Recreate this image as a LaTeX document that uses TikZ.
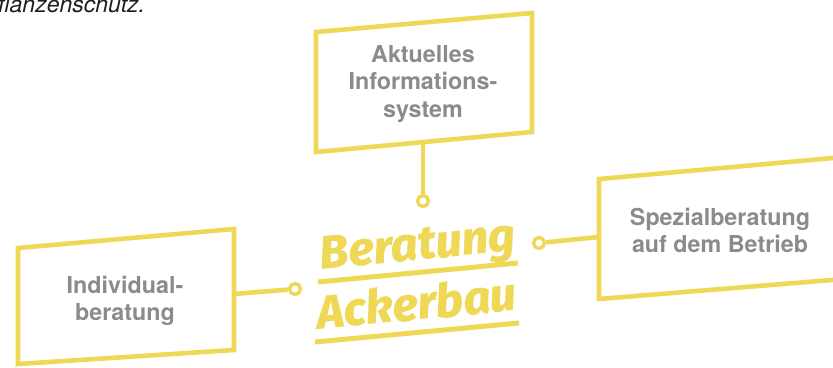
\documentclass[tikz,border=0pt]{standalone}
\usepackage{fontspec}
\setmainfont{TeX Gyre Heros}
\newfontfamily\titlefont{Fira Sans ExtraBold Italic}
\definecolor{ayellow}{RGB}{239,216,86}
\definecolor{agray}{RGB}{139,139,139}
\definecolor{aink}{RGB}{30,30,30}
\begin{document}
\begin{tikzpicture}[x=1pt,y=-1pt,
  boxframe/.style={draw=ayellow,line width=4.6pt,line join=miter},
  connector/.style={draw=ayellow,line width=4.6pt},
  joint/.style={circle,draw=ayellow,fill=white,line width=3.4pt,minimum size=11pt,inner sep=0pt},
  boxtext/.style={text=agray,font=\fontsize{23.3}{27.5}\selectfont\bfseries,align=center,inner sep=0pt},
  headline/.style={text=ayellow,font=\titlefont\fontsize{47}{52}\selectfont,rotate=5.5,inner sep=0pt,anchor=base},
  uline/.style={draw=ayellow,line width=5pt}]
\useasboundingbox (0,0) rectangle (833,367);
% top-left cut text
\node[anchor=base west,inner sep=0pt,text=aink,font=\fontsize{23}{26}\selectfont\itshape] (pz) at (-2,12.5) {flanzenschutz.};
% top box
\coordinate (tTL) at (316,32);
\coordinate (tTR) at (532,13);
\coordinate (tBR) at (532,132);
\coordinate (tBL) at (316,152);
\draw[boxframe] (tTL) -- (tTR) -- (tBR) -- (tBL) -- cycle;
\coordinate (tB) at (423,142.1);
\node[joint] (c1) at (423,201) {};
\draw[connector] (tB) -- (c1);
\node[boxtext] (ttext) at (423,84) {Aktuelles\\Informations-\\system};
% left box
\coordinate (lTL) at (18,248);
\coordinate (lTR) at (234,229);
\coordinate (lBR) at (234,350);
\coordinate (lBL) at (18,364);
\draw[boxframe] (lTL) -- (lTR) -- (lBR) -- (lBL) -- cycle;
\coordinate (lR) at (234,294);
\node[joint] (c2) at (295,289) {};
\draw[connector] (lR) -- (c2);
\node[boxtext] (ltext) at (125,301) {Individual-\\beratung};
% right box
\coordinate (rTL) at (599,179);
\coordinate (rTR) at (850,156.5);
\coordinate (rBR) at (850,278.5);
\coordinate (rBL) at (599,299);
\draw[boxframe] (rTL) -- (rTR) -- (rBR) -- (rBL) -- cycle;
\coordinate (rL) at (599,237);
\node[joint] (c3) at (539,243) {};
\draw[connector] (c3) -- (rL);
\node[boxtext] (rtext) at (720,230.5) {Spezialberatung\\auf dem Betrieb};
% centre title
\node[headline] (hb) at (419,260) {Beratung};
\node[headline] (ha) at (418,320) {Ackerbau};
\coordinate (u1a) at (318,282);
\coordinate (u1b) at (518,263);
\coordinate (u2a) at (315,342);
\coordinate (u2b) at (519,323);
\draw[uline] (u1a) -- (u1b);
\draw[uline] (u2a) -- (u2b);
\end{tikzpicture}
\end{document}
